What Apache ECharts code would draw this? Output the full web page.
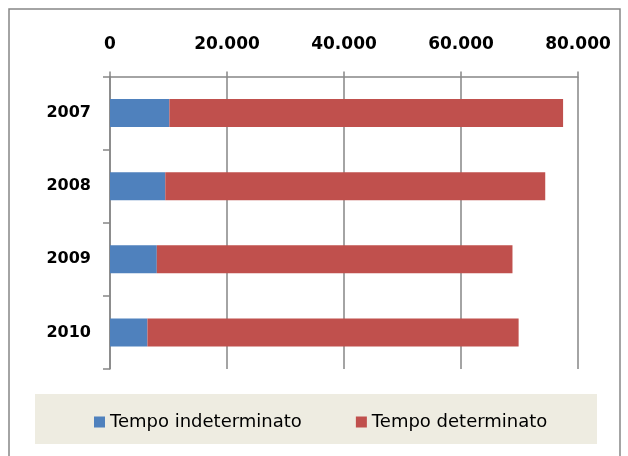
<!DOCTYPE html>
<html>
<head>
<meta charset="utf-8">
<script src="https://cdn.jsdelivr.net/npm/echarts@6/dist/echarts.min.js"></script>
<style>html,body{margin:0;padding:0;background:#fff;}#c{width:628px;height:456px;}</style>
</head>
<body>
<div id="c"></div>
<script>
var categories = ['2007', '2008', '2009', '2010'];
var indeterminato = [10150, 9450, 8000, 6400];
var determinato = [67300, 64950, 60800, 63450];
var seriesNames = ['Tempo indeterminato', 'Tempo determinato'];
var xTicks = [0, 20000, 40000, 60000, 80000];

var chart = echarts.init(document.getElementById('c'), null, {renderer: 'canvas'});
var gray = '#868686';
chart.setOption({
  animation: false,
  backgroundColor: '#ffffff',
  color: ['#4F81BD', '#C0504D'],
  graphic: [
    {type: 'rect', shape: {x: 9, y: 9, width: 611, height: 480}, style: {fill: 'none', stroke: gray, lineWidth: 1.5}, z: -10},
    {type: 'rect', shape: {x: 35, y: 394, width: 562, height: 50}, style: {fill: '#EEECE1', stroke: 'none'}, z: -5}
  ],
  grid: {left: 110, right: 50, top: 76.5, bottom: 87, containLabel: false},
  legend: {
    data: seriesNames,
    left: 89,
    top: 408,
    itemWidth: 11,
    itemHeight: 11,
    itemGap: 54,
    icon: 'rect',
    textStyle: {fontFamily: 'DejaVu Sans', fontSize: 18, color: '#000'}
  },
  xAxis: {
    type: 'value',
    position: 'top',
    min: xTicks[0],
    max: xTicks[xTicks.length - 1],
    interval: xTicks[1] - xTicks[0],
    axisLine: {show: true, lineStyle: {color: gray, width: 1.5}},
    axisTick: {show: true, inside: false, length: 5, lineStyle: {color: gray, width: 1.5}},
    splitLine: {show: true, lineStyle: {color: gray, width: 1.5}},
    axisLabel: {
      margin: 23,
      fontFamily: 'DejaVu Sans', fontWeight: 'bold', fontSize: 17, color: '#000',
      formatter: function (v) { return v === 0 ? '0' : String(v).replace(/\B(?=(\d{3})+(?!\d))/g, '.'); }
    }
  },
  yAxis: {
    type: 'category',
    inverse: true,
    data: categories,
    axisLine: {show: true, lineStyle: {color: gray, width: 1.5}},
    axisTick: {show: true, length: 7, alignWithLabel: false, lineStyle: {color: gray, width: 1.5}},
    axisLabel: {margin: 19, fontFamily: 'DejaVu Sans', fontWeight: 'bold', fontSize: 16, color: '#000'}
  },
  series: [
    {name: seriesNames[0], type: 'bar', stack: 'a', barWidth: 28, data: indeterminato, itemStyle: {color: '#4F81BD'}},
    {name: seriesNames[1], type: 'bar', stack: 'a', barWidth: 28, data: determinato, itemStyle: {color: '#C0504D'}}
  ]
});
</script>
</body>
</html>
